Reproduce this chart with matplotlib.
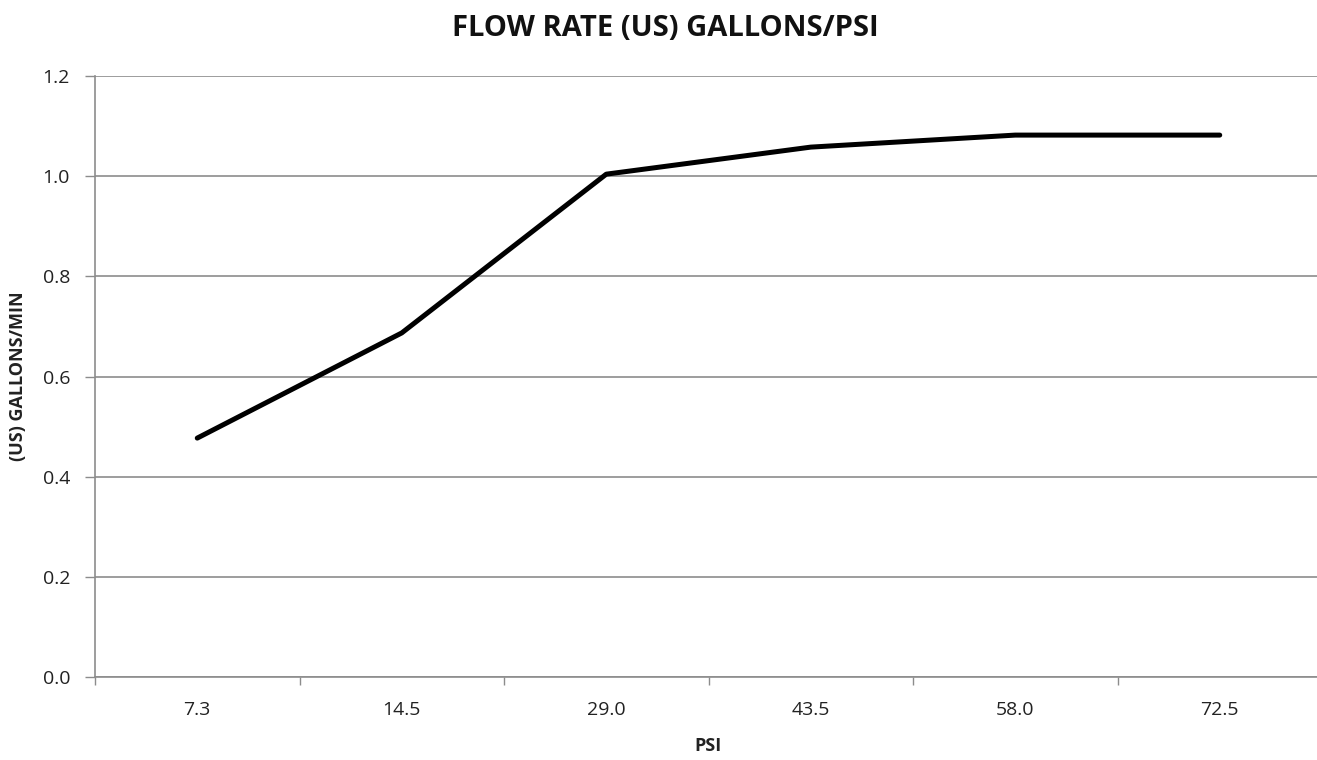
import matplotlib
matplotlib.use("Agg")
import matplotlib.pyplot as plt
import numpy as np

categories = ["7.3", "14.5", "29.0", "43.5", "58.0", "72.5"]
flow = [0.477, 0.687, 1.004, 1.058, 1.082, 1.082]
yticks = [0.0, 0.2, 0.4, 0.6, 0.8, 1.0, 1.2]

plt.rcParams['font.family'] = ['Open Sans', 'DejaVu Sans']

fig = plt.figure(figsize=(13.17, 7.6), dpi=100)
ax = fig.add_axes([95/1317, 1-677/760, 1227/1317, (677-76)/760])

x = np.arange(len(categories))
ax.plot(x, flow, color='black', linewidth=3.6, solid_capstyle='round',
        solid_joinstyle='round', zorder=3)

ax.set_xlim(-0.5, len(categories) - 0.5)
ax.set_ylim(0, 1.2)
ax.set_yticks(yticks)
ax.set_yticklabels([f"{v:.1f}" for v in yticks], fontsize=14, color='#222222')
ax.yaxis.grid(True, color='#8c8c8c', linewidth=1.2)
ax.set_axisbelow(True)

ax.set_xticks(x)
ax.set_xticklabels(categories, fontsize=14, color='#222222')
ax.set_xticks(np.arange(-0.5, len(categories) + 0.5, 1), minor=True)
ax.tick_params(axis='x', which='major', length=0, pad=17)
ax.tick_params(axis='x', which='minor', length=6, color='#8c8c8c', width=1.0)
ax.tick_params(axis='y', length=7, color='#8c8c8c', width=1.0, pad=11)

for s in ['top', 'right']:
    ax.spines[s].set_visible(False)
ax.spines['left'].set_color('#8c8c8c')
ax.spines['left'].set_linewidth(1.2)
ax.spines['bottom'].set_color('#8c8c8c')
ax.spines['bottom'].set_linewidth(1.2)

ax.set_xlabel("PSI", fontsize=13, fontweight='bold', color='#222222', va='center')
ax.xaxis.set_label_coords(0.5, (677 - 746) / 601)
ax.set_ylabel("(US) GALLONS/MIN", fontsize=13, fontweight='bold', color='#222222', va='center')
ax.yaxis.set_label_coords((18 - 95) / 1227, 0.5)
fig.text(665/1317, 1-29/760, "FLOW RATE (US) GALLONS/PSI", ha='center', va='center',
         fontsize=21, fontweight='bold', color='#111111')

fig.savefig("out.png", dpi=100)
